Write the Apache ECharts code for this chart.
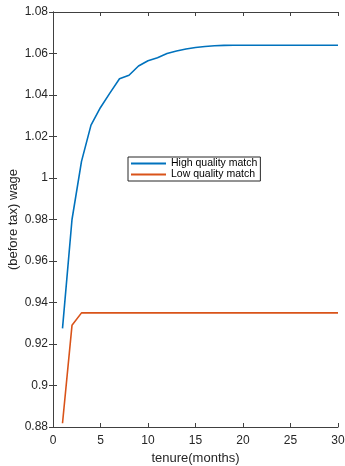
<!DOCTYPE html>
<html>
<head>
<meta charset="utf-8">
<script src="https://cdn.jsdelivr.net/npm/echarts@6/dist/echarts.min.js"></script>
<style>
  html, body { margin: 0; padding: 0; background: #fff; }
  #chart { width: 345px; height: 466px; }
</style>
</head>
<body>
<div id="chart"></div>
<script>
// tenure in months
const tenure = [1, 2, 3, 4, 5, 6, 7, 8, 9, 10, 11, 12, 13, 14, 15, 16, 17, 18, 19, 20,
  21, 22, 23, 24, 25, 26, 27, 28, 29, 30];

const highQuality = [0.9275, 0.980, 1.008, 1.0255, 1.034, 1.041, 1.0478, 1.0495, 1.054, 1.0565,
  1.058, 1.060, 1.0612, 1.0622, 1.0629, 1.0634, 1.0637, 1.0639, 1.064, 1.064,
  1.064, 1.064, 1.064, 1.064, 1.064, 1.064, 1.064, 1.064, 1.064, 1.064];

const lowQuality = [0.8818, 0.929, 0.935, 0.935, 0.935, 0.935, 0.935, 0.935, 0.935, 0.935,
  0.935, 0.935, 0.935, 0.935, 0.935, 0.935, 0.935, 0.935, 0.935, 0.935,
  0.935, 0.935, 0.935, 0.935, 0.935, 0.935, 0.935, 0.935, 0.935, 0.935];

const seriesNames = ['High quality match', 'Low quality match'];

const font = 'Liberation Sans, Arial, sans-serif';
const axisColor = '#404040';
const textColor = '#262626';

const pairs = (ys) => tenure.map((t, i) => [t, ys[i]]);

const boxAxis = {
  axisLine: { show: true, lineStyle: { color: axisColor, width: 1 } },
  axisTick: { show: true, inside: true, length: 4, lineStyle: { color: axisColor } },
  splitLine: { show: false },
};

const chart = echarts.init(document.getElementById('chart'));
chart.setOption({
  animation: false,
  textStyle: { fontFamily: font },
  grid: { left: 53, right: 7, top: 12, bottom: 39, containLabel: false, outerBoundsMode: 'none' },
  legend: {
    orient: 'vertical',
    left: 128,
    top: 157,
    padding: [1, 3, 1, 3],
    itemGap: 0,
    itemWidth: 35,
    itemHeight: 2,
    icon: 'rect',
    borderColor: '#262626',
    borderWidth: 1,
    backgroundColor: '#fff',
    textStyle: { fontFamily: font, fontSize: 10.5, lineHeight: 10.5, color: '#000' },
    data: seriesNames,
  },
  xAxis: [
    {
      type: 'value',
      min: 0, max: 30, interval: 5,
      name: 'tenure(months)',
      nameLocation: 'middle',
      nameGap: 25,
      nameMoveOverlap: false,
      nameTextStyle: { fontFamily: font, fontSize: 13, color: textColor },
      axisLabel: { fontFamily: font, fontSize: 12, color: textColor, margin: 8 },
      ...boxAxis,
    },
    {
      type: 'value', position: 'top',
      min: 0, max: 30, interval: 5,
      axisLabel: { show: false },
      ...boxAxis,
    },
  ],
  yAxis: [
    {
      type: 'value',
      min: 0.88, max: 1.08, interval: 0.02,
      name: '(before tax) wage',
      nameLocation: 'middle',
      nameGap: 33,
      nameMoveOverlap: false,
      nameTextStyle: { fontFamily: font, fontSize: 13, color: textColor },
      axisLabel: {
        fontFamily: font, fontSize: 12, color: textColor, margin: 5,
        formatter: (v) => String(parseFloat(v.toFixed(2))),
      },
      ...boxAxis,
    },
    {
      type: 'value', position: 'right',
      min: 0.88, max: 1.08, interval: 0.02,
      axisLabel: { show: false },
      ...boxAxis,
    },
  ],
  series: [
    {
      name: seriesNames[0],
      type: 'line',
      data: pairs(highQuality),
      showSymbol: false,
      symbol: 'none',
      lineStyle: { color: '#0072BD', width: 1.6 },
      itemStyle: { color: '#0072BD' },
    },
    {
      name: seriesNames[1],
      type: 'line',
      data: pairs(lowQuality),
      showSymbol: false,
      symbol: 'none',
      lineStyle: { color: '#D95319', width: 1.6 },
      itemStyle: { color: '#D95319' },
    },
  ],
});
</script>
</body>
</html>
